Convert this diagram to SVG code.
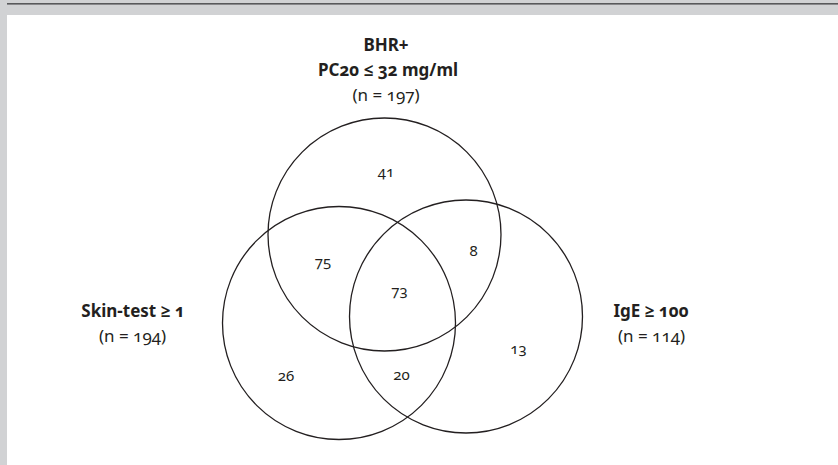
<svg xmlns="http://www.w3.org/2000/svg" width="838" height="465" viewBox="0 0 838 465">
<style>
text{font-family:"Noto Sans","Open Sans","Liberation Sans",sans-serif;fill:#231f20;text-anchor:middle;font-variant-numeric:oldstyle-nums}
.lbl{font-size:17px}
.b{font-weight:bold}
.num{font-size:15px}
.c{fill:none;stroke:#231f20;stroke-width:1.3}
</style>
<rect x="0" y="0" width="838" height="465" fill="#ffffff"/>
<rect x="0" y="0" width="838" height="15" fill="#d1d2d4"/>
<rect x="0" y="0" width="7" height="465" fill="#d1d2d4"/>
<rect x="7" y="3" width="831" height="1.6" fill="#58595b"/>
<g id="connectors"></g>
<g id="bhr">
<circle class="c" cx="384.5" cy="234.5" r="116.5"/>
<text class="lbl b" x="386" y="51">BHR+</text>
<text class="lbl b" x="388" y="76">PC20 ≤ 32 mg/ml</text>
<text class="lbl" x="386" y="101">(n = 197)</text>
</g>
<g id="skin">
<circle class="c" cx="339" cy="323" r="116.5"/>
<text class="lbl b" x="133" y="317">Skin-test ≥ 1</text>
<text class="lbl" x="132.5" y="342">(n = 194)</text>
</g>
<g id="ige">
<circle class="c" cx="466" cy="316.5" r="116.5"/>
<text class="lbl b" x="651" y="317">IgE ≥ 100</text>
<text class="lbl" x="651.5" y="342">(n = 114)</text>
</g>
<g id="counts">
<text class="num" x="386" y="177">41</text>
<text class="num" x="323" y="267">75</text>
<text class="num" x="473.5" y="256">8</text>
<text class="num" x="399.5" y="295.5">73</text>
<text class="num" x="518.5" y="354">13</text>
<text class="num" x="286" y="381">26</text>
<text class="num" x="401.5" y="380">20</text>
</g>
</svg>
